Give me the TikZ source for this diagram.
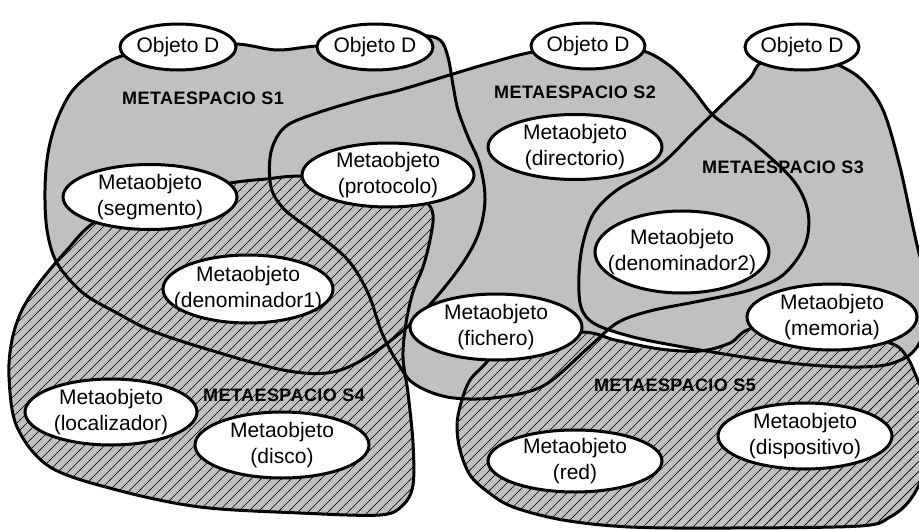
\documentclass[tikz,border=0pt]{standalone}
\usepackage{fontspec}
\setmainfont{Liberation Sans}
\newfontfamily\labelfont[LetterSpace=2.5]{Liberation Sans}
\usetikzlibrary{shapes.geometric,patterns}

% thin diagonal hatching used for the lower metaspaces
\pgfdeclarepatternformonly{diaghatch}{\pgfqpoint{-1pt}{-1pt}}{\pgfqpoint{11pt}{11pt}}{\pgfqpoint{10pt}{10pt}}{%
  \pgfsetlinewidth{0.7pt}%
  \pgfpathmoveto{\pgfqpoint{-1pt}{-1pt}}%
  \pgfpathlineto{\pgfqpoint{11pt}{11pt}}%
  \pgfusepath{stroke}}

\definecolor{areagrey}{RGB}{192,192,192}

\tikzset{
  objshape/.style={ellipse, draw, fill=white, line width=3pt, inner sep=0pt},
  objtext/.style={inner sep=0pt, align=center, font=\fontsize{21}{26}\selectfont},
  spacelabel/.style={inner sep=0pt, font=\labelfont\fontsize{18}{22}\bfseries\selectfont},
  border/.style={line width=3pt, line join=round},
}

% ellipse object: name, position, width, height, text
\newcommand{\mobj}[5]{%
  \node[objshape, minimum width=#3, minimum height=#4] (#1) at #2 {};
  \node[objtext] (#1-text) at (#1.center) {#5};}

% outlines of the five metaspaces (pixel-like units, y downwards)
\def\pSone{plot[smooth cycle,tension=0.55] coordinates {(178,45) (237,44) (277,50) (317,46) (375,44) (420,36) (440,40) (448,57) (453,85) (458,110) (468,137) (480,165) (485,200) (478,235) (458,270) (420,315) (375,352) (333,372) (283,370) (200,347) (150,330) (117,313) (83,293) (57,263) (47,230) (45,190) (48,153) (57,120) (73,90) (100,67) (125,55)}}
\def\pStwo{plot[smooth cycle,tension=0.55] coordinates {(588,46) (533,52) (490,63) (453,74) (400,90) (367,98) (317,113) (285,127) (271,152) (271,187) (285,210) (317,234) (348,260) (368,293) (382,333) (396,360) (413,383) (447,397) (493,398) (543,386) (588,348) (617,323) (650,311) (700,301) (750,290) (783,275) (805,245) (808,212) (793,180) (752,142) (715,117) (693,90) (670,66) (640,50)}}
\def\pSthree{plot[smooth cycle,tension=0.55] coordinates {(802,47) (762,62) (750,78) (727,100) (693,133) (660,165) (617,190) (594,213) (583,243) (579,275) (581,307) (595,324) (633,337) (683,347) (750,358) (810,365) (860,367) (893,363) (917,347) (935,300) (919,253) (900,167) (883,110) (862,80) (837,64)}}
\def\pSfour{plot[smooth cycle,tension=0.55] coordinates {(150,197) (230,183) (266,179) (302,176) (388,178) (424,200) (433,215) (430,240) (423,267) (413,292) (406,323) (403,357) (408,393) (413,443) (413,485) (403,505) (380,515) (300,513) (200,507) (117,490) (50,467) (17,427) (9,377) (12,340) (22,310) (40,282) (67,250) (95,222)}}
\def\pSfive{plot[smooth cycle,tension=0.55] coordinates {(496,335) (488,360) (470,380) (461,403) (457,425) (460,450) (470,475) (488,492) (513,507) (563,520) (630,527) (730,528) (860,526) (890,517) (910,500) (925,470) (935,420) (919,383) (907,357) (890,343) (832,330) (755,328) (730,343) (700,351) (660,349) (615,340) (582,332)}}

\begin{document}
\begin{tikzpicture}[x=1pt,y=-1pt]
\useasboundingbox (0,0) rectangle (919,530);
\clip (0,0) rectangle (919,530);

% grey areas
\fill[areagrey] \pSone;
\fill[areagrey] \pStwo;
\fill[areagrey] \pSthree;
\fill[areagrey] \pSfour;
\fill[areagrey] \pSfive;

% metaspace names
\node[spacelabel] (lS1) at (203,98) {METAESPACIO S1};
\node[spacelabel] (lS2) at (575,92) {METAESPACIO S2};
\node[spacelabel] (lS3) at (783,167) {METAESPACIO S3};
\node[spacelabel] (lS4) at (284,395) {METAESPACIO S4};
\node[spacelabel] (lS5) at (675,385) {METAESPACIO S5};

% hatching of S4 and S5
\fill[pattern=diaghatch] \pSfour;
\fill[pattern=diaghatch] \pSfive;

% outlines
\draw[border] \pSone;
\draw[border] \pStwo;
\draw[border] \pSthree;
\draw[border] \pSfour;
\draw[border] \pSfive;

% objects
\mobj{d1}{(178,47)}{116pt}{46pt}{Objeto D}
\mobj{d2}{(375,47)}{116pt}{46pt}{Objeto D}
\mobj{d3}{(588,46)}{114pt}{46pt}{Objeto D}
\mobj{d4}{(802,47)}{114pt}{46pt}{Objeto D}
\mobj{segm}{(150,197)}{174pt}{65pt}{Metaobjeto\\(segmento)}
\mobj{prot}{(388,175)}{172pt}{64pt}{Metaobjeto\\(protocolo)}
\mobj{dir}{(575,147)}{174pt}{65pt}{Metaobjeto\\(directorio)}
\mobj{den1}{(248,289)}{170pt}{68pt}{Metaobjeto\\(denominador1)}
\mobj{den2}{(682,252)}{174pt}{82pt}{Metaobjeto\\(denominador2)}
\mobj{fich}{(496,327)}{172pt}{66pt}{Metaobjeto\\(fichero)}
\mobj{mem}{(832,317)}{170pt}{66pt}{Metaobjeto\\(memoria)}
\mobj{loc}{(111,412)}{172pt}{66pt}{Metaobjeto\\(localizador)}
\mobj{disco}{(282,445)}{174pt}{66pt}{Metaobjeto\\(disco)}
\mobj{red}{(575,461)}{174pt}{62pt}{Metaobjeto\\(red)}
\mobj{disp}{(805,436)}{174pt}{66pt}{Metaobjeto\\(dispositivo)}
\end{tikzpicture}
\end{document}
